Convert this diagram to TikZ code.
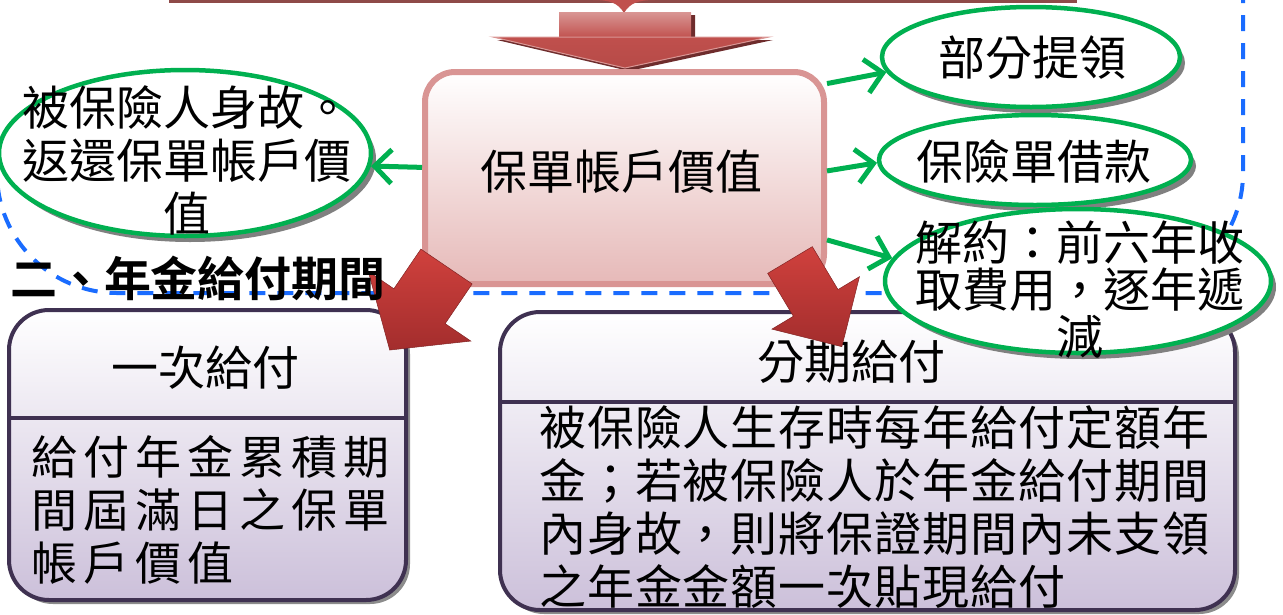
\documentclass[tikz,border=0pt]{standalone}
\usepackage{fontspec}
\setmainfont{Noto Sans CJK TC}[BoldFont={Noto Sans CJK TC Bold}]
\usetikzlibrary{shapes.geometric,shadows,arrows.meta}
\definecolor{gline}{HTML}{00B050}
\definecolor{bline}{HTML}{1A6CFF}
\definecolor{pinkb}{HTML}{D99594}
\definecolor{pinkf}{HTML}{E6B9B8}
\definecolor{purb}{HTML}{3F3151}
\definecolor{lav}{HTML}{CCC0DA}
\definecolor{redA}{HTML}{D0413D}
\definecolor{redB}{HTML}{A32D2D}
\definecolor{darkbar}{HTML}{8E4A48}
\definecolor{arrTop}{HTML}{D99694}
\definecolor{arrMid}{HTML}{C0504D}
\definecolor{arrBot}{HTML}{B64A47}
\definecolor{arrShadow}{HTML}{6E2C2C}
\begin{document}
\begin{tikzpicture}[x=1pt,y=-1pt,
  zh/.style={font=\fontsize{47}{53}\selectfont, inner sep=0pt},
  oval/.style={ellipse, draw=gline, line width=4.5pt, fill=white, inner sep=0pt,
    drop shadow={shadow xshift=5pt, shadow yshift=-6pt, fill=black!50, opacity=1}},
  pbox/.style={rectangle, rounded corners=40pt, draw=purb, line width=4pt,
    top color=white, bottom color=lav, inner sep=0pt,
    drop shadow={shadow xshift=4pt, shadow yshift=-4pt, fill=black!45, opacity=1}},
  garrow/.style={draw=gline, line width=5pt, -{Straight Barb[length=17pt,width=34pt]}},
  redarrow/.style={top color=redA, bottom color=redB, draw=redB!80!black, line width=0.5pt}
]
\useasboundingbox (0,0) rectangle (1283,614);

% blue dashed frame
\draw[bline, line width=4pt, dash pattern=on 16pt off 12pt, rounded corners=120pt]
  (-3,-10) -- (-3,293) -- (1243,293) -- (1243,-10);

% top element
\fill[darkbar] (169,0) rectangle (1077,3);
\fill[arrMid] (593,0) .. controls (610,0) and (618,3) .. (624,13) .. controls (630,3) and (638,0) .. (655,0) -- cycle;

% top down arrow
\fill[arrShadow] (563,15) -- (695,15) -- (695,40) -- (773,40) -- (629,71) -- (497,40) -- (563,40) -- cycle;
\path[top color=arrTop, bottom color=arrMid]
  (559,12) rectangle (691,38);
\path[top color=arrMid, bottom color=arrBot, draw=arrTop, line width=1pt]
  (769,37) -- (625,68) -- (493,37) -- cycle;

% center box
\node[rectangle, rounded corners=30pt, draw=pinkb, line width=6pt, top color=white, bottom color=pinkf,
  minimum width=399, minimum height=212, inner sep=0pt] (cbox) at (624.5,178) {};
\node[zh] (ctext) at (621,172) {保單帳戶價值};

% bottom boxes
\node[pbox, minimum width=397, minimum height=290] (lbox) at (207.5,455) {};
\coordinate (ldiv) at (0,418);
\draw[purb, line width=4pt] (lbox.west |- ldiv) -- (lbox.east |- ldiv);
\node[zh] (lhead) at (205,368) {一次給付};
\node[font=\fontsize{46}{53}\selectfont\addfontfeatures{LetterSpace=13}, inner sep=0pt,
  align=left, anchor=west] (lbody) at (31,510) {給付年金累積期\\間屆滿日之保單\\帳戶價值};

\node[pbox, minimum width=735, minimum height=298] (rbox) at (867.5,461) {};
\coordinate (rdiv) at (0,402);
\draw[purb, line width=4pt] (rbox.west |- rdiv) -- (rbox.east |- rdiv);
\node[zh] (rhead) at (851,362) {分期給付};
\node[font=\fontsize{47}{53}\selectfont\addfontfeatures{LetterSpace=2}, inner sep=0pt,
  align=left, anchor=west] (rbody) at (539,507.5)
  {被保險人生存時每年給付定額年\\金；若被保險人於年金給付期間\\內身故，則將保證期間內未支領\\之年金金額一次貼現給付};

% red block arrows
\begin{scope}[shift={(446.5,266.5)}, rotate=-124.2]
  \path[redarrow] (0,31) -- (48,31) -- (48,62) -- (101,0) -- (48,-62) -- (48,-31) -- (0,-31) -- cycle;
\end{scope}
\begin{scope}[shift={(790,260)}, rotate=-59.1]
  \path[redarrow] (0,26) -- (50,26) -- (50,51) -- (101,0) -- (50,-51) -- (50,-26) -- (0,-26) -- cycle;
\end{scope}

% ellipses
\node[oval, minimum width=372, minimum height=166] (e0) at (185,153) {};
\node[zh, align=center] (t0) at (187,160) {被保險人身故。\\返還保單帳戶價\\值};
\node[oval, minimum width=298, minimum height=100] (e1) at (1031,57) {};
\node[zh] (t1) at (1032,58) {部分提領};
\node[oval, minimum width=312, minimum height=90] (e2) at (1035,160) {};
\node[zh] (t2) at (1034,162) {保險單借款};
\node[oval, minimum width=386, minimum height=144] (e3) at (1078,281) {};
\node[font=\fontsize{47}{47}\selectfont, inner sep=0pt, align=center] (t3) at (1080,290)
  {解約：前六年收\\取費用，逐年遞\\減};

% heading
\node[font=\fontsize{47}{53}\selectfont\bfseries, inner sep=0pt] (head) at (198,278) {二、年金給付期間};

% green connectors
\draw[garrow] (cbox.25) -- (e1.186);
\draw[garrow] (cbox.2) -- (e2.181);
\draw[garrow] (cbox.343) -- (e3.173);
\draw[garrow] (cbox.177) -- (e0.356);
\end{tikzpicture}
\end{document}
